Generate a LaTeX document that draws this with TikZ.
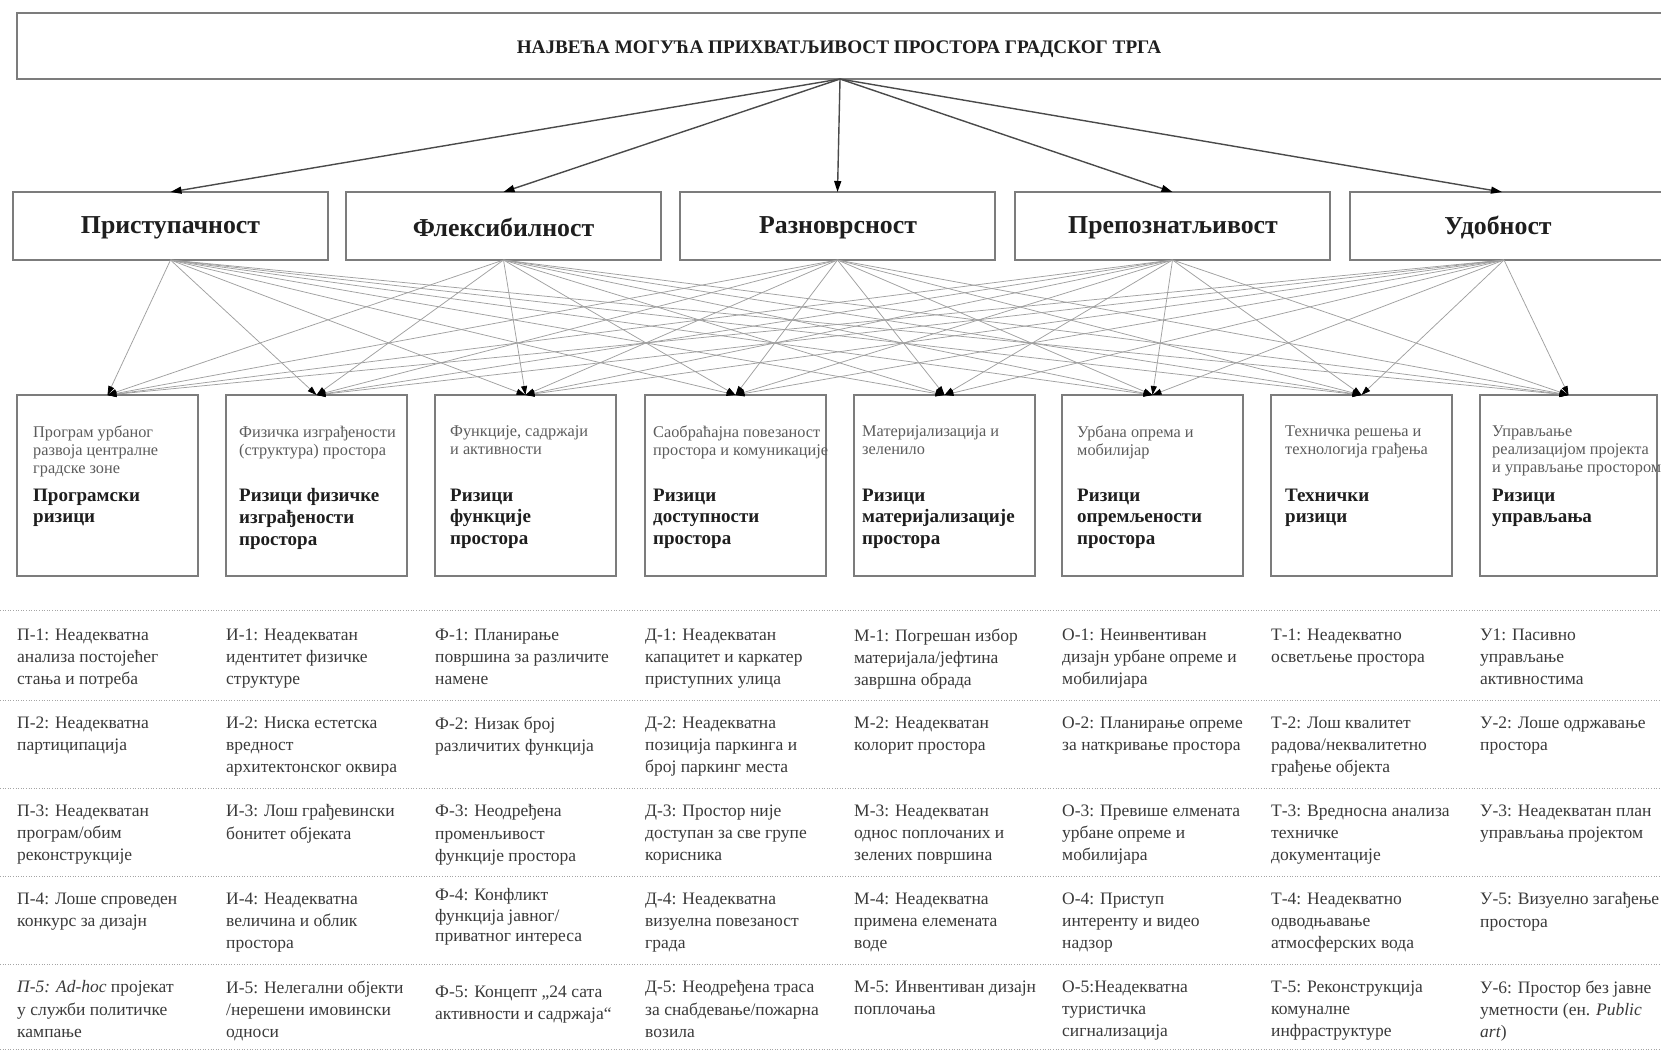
\documentclass[tikz,border=0pt]{standalone}
\usepackage{fontspec}
\setmainfont{Liberation Serif}
\usetikzlibrary{arrows.meta}

\definecolor{boxline}{HTML}{7C7C7C}
\definecolor{wire}{HTML}{A0A0A0}
\definecolor{toparrow}{HTML}{4A4A4A}
\definecolor{smalltext}{HTML}{5C5C5C}
\definecolor{tabletext}{HTML}{3A3A3A}
\definecolor{dotline}{HTML}{A5A5A5}
\definecolor{boldtext}{HTML}{1E1E1E}

\tikzset{
  framebox/.style={draw=boxline, line width=1.3pt, rectangle, inner sep=0pt, outer sep=0pt},
  goalbox/.style={framebox, anchor=north west, minimum width=315pt, minimum height=68pt},
  riskbox/.style={framebox, anchor=north west, minimum width=181pt, minimum height=181pt},
  titletext/.style={font=\bfseries\fontsize{19.2}{22}\selectfont, text=boldtext, anchor=base, inner sep=0pt},
  goaltext/.style={font=\bfseries\fontsize{25.8}{30}\selectfont, text=boldtext, anchor=base, inner sep=0pt},
  % multi-line texts hang from the top of a strut on their first line
  linesblock/.style={align=left, anchor=north west, inner sep=0pt, execute at begin node=\strut},
  areatext/.style={linesblock, font=\fontsize{16.3}{18}\selectfont, text=smalltext},
  risktext/.style={linesblock, font=\bfseries\fontsize{19}{21.7}\selectfont, text=boldtext},
  celltext/.style={linesblock, font=\fontsize{17.5}{22.25}\selectfont, text=tabletext},
  toplink/.style={draw=toparrow, line width=1.4pt, -{Triangle[length=11pt,width=7pt,color=black]}},
  wirelink/.style={draw=wire, line width=0.75pt, -{Triangle[length=9pt,width=6pt,color=black]}},
  rowrule/.style={draw=dotline, line width=1pt, dash pattern=on 1pt off 1.6pt}
}

\begin{document}
\begin{tikzpicture}[x=1pt,y=-1pt]
\clip (0,0) rectangle (1661,1053);
\fill[white] (0,0) rectangle (1661,1053);

% overall goal
\node[framebox, anchor=north west, minimum width=1660pt, minimum height=66pt] (goal) at (17,13) {};
\node[titletext] (goaltitle) at (839,53) {НАЈВЕЋА МОГУЋА ПРИХВАТЉИВОСТ ПРОСТОРА ГРАДСКОГ ТРГА};
\coordinate (apex) at (840,79);

% quality criteria
\node[goalbox] (c1) at (13,192) {};
\node[goalbox] (c2) at (346,192) {};
\node[goalbox] (c3) at (680,192) {};
\node[goalbox] (c4) at (1015,192) {};
\node[goalbox, minimum width=330pt] (c5) at (1350,192) {};
\node[goaltext] (c1t) at (170.5,233) {Приступачност};
\node[goaltext] (c2t) at (503.5,236) {Флексибилност};
\node[goaltext] (c3t) at (838,233) {Разноврсност};
\node[goaltext] (c4t) at (1173,233) {Препознатљивост};
\node[goaltext] (c5t) at (1498,234) {Удобност};

\coordinate (n1) at (c1.north);
\coordinate (n2) at (c2.north);
\coordinate (n3) at (c3.north);
\coordinate (n4) at (c4.north);
\coordinate (n5) at ([xshift=152pt]c5.north west);
\coordinate (s1) at (c1.south);
\coordinate (s2) at (c2.south);
\coordinate (s3) at (c3.south);
\coordinate (s4) at (c4.south);
\coordinate (s5) at ([xshift=154pt]c5.south west);

\foreach \i in {1,...,5} \draw[toplink] (apex) -- (n\i);

% risk groups
\node[riskbox] (r1) at (17,395) {};
\node[riskbox] (r2) at (226,395) {};
\node[riskbox] (r3) at (435,395) {};
\node[riskbox] (r4) at (645,395) {};
\node[riskbox] (r5) at (854,395) {};
\node[riskbox] (r6) at (1062,395) {};
\node[riskbox] (r7) at (1271,395) {};
\node[riskbox, minimum width=177pt] (r8) at (1480,395) {};

\foreach \i in {1,...,5}
  \foreach \j in {1,...,8}
    \draw[wirelink] (s\i) -- (r\j.north);

\node[areatext] (r1a) at (33,425.5) {Програм урбаног\\развоја централне\\градске зоне};
\node[areatext] (r2a) at (239,425.5) {Физичка изграђености\\(структура) простора};
\node[areatext] (r3a) at (450,425.5) {Функције, садржаји\\и активности};
\node[areatext] (r4a) at (653,425.5) {Саобраћајна повезаност\\простора и комуникације};
\node[areatext] (r5a) at (862,425.5) {Материјализација и\\зеленило};
\node[areatext] (r6a) at (1077,425.5) {Урбана опрема и\\мобилијар};
\node[areatext] (r7a) at (1285,425.5) {Техничка решења и\\технологија грађења};
\node[areatext] (r8a) at (1492,425.5) {Управљање\\реализацијом пројекта\\и управљање простором};

\node[risktext] (r1b) at (33,488.5) {Програмски\\ризици};
\node[risktext] (r2b) at (239,488.5) {Ризици физичке\\изграђености\\простора};
\node[risktext] (r3b) at (450,488.5) {Ризици\\функције\\простора};
\node[risktext] (r4b) at (653,488.5) {Ризици\\доступности\\простора};
\node[risktext] (r5b) at (862,488.5) {Ризици\\материјализације\\простора};
\node[risktext] (r6b) at (1077,488.5) {Ризици\\опремљености\\простора};
\node[risktext] (r7b) at (1285,488.5) {Технички\\ризици};
\node[risktext] (r8b) at (1492,488.5) {Ризици\\управљања};

% list of individual risks
\foreach \y in {610,700,788,876,964,1049}
  \draw[rowrule] (0,\y) -- (1661,\y);

% row 1
\node[celltext] (p1) at (17,628.5) {П-1: Неадекватна\\анализа постојећег\\стања и потреба};
\node[celltext] (i1) at (226,628.5) {И-1: Неадекватан\\идентитет физичке\\структуре};
\node[celltext] (f1) at (435,628.5) {Ф-1: Планирање\\површина за различите\\намене};
\node[celltext] (d1) at (645,628.5) {Д-1: Неадекватан\\капацитет и каркатер\\приступних улица};
\node[celltext] (m1) at (854,628.5) {М-1: Погрешан избор\\материјала/јефтина\\завршна обрада};
\node[celltext] (o1) at (1062,628.5) {О-1: Неинвентиван\\дизајн урбане опреме и\\мобилијара};
\node[celltext] (t1) at (1271,628.5) {Т-1: Неадекватно\\осветљење простора};
\node[celltext] (u1) at (1480,628.5) {У1: Пасивно\\управљање\\активностима};

% row 2
\node[celltext] (p2) at (17,716.5) {П-2: Неадекватна\\партиципација};
\node[celltext] (i2) at (226,716.5) {И-2: Ниска естетска\\вредност\\архитектонског оквира};
\node[celltext] (f2) at (435,716.5) {Ф-2: Низак број\\различитих функција};
\node[celltext] (d2) at (645,716.5) {Д-2: Неадекватна\\позиција паркинга и\\број паркинг места};
\node[celltext] (m2) at (854,716.5) {М-2: Неадекватан\\колорит простора};
\node[celltext] (o2) at (1062,716.5) {О-2: Планирање опреме\\за наткривање простора};
\node[celltext] (t2) at (1271,716.5) {Т-2: Лош квалитет\\радова/неквалитетно\\грађење објекта};
\node[celltext] (u2) at (1480,716.5) {У-2: Лоше одржавање\\простора};

% row 3
\node[celltext] (p3) at (17,804.5) {П-3: Неадекватан\\програм/обим\\реконструкције};
\node[celltext] (i3) at (226,804.5) {И-3: Лош грађевински\\бонитет објеката};
\node[celltext] (f3) at (435,804.5) {Ф-3: Неодређена\\променљивост\\функције простора};
\node[celltext] (d3) at (645,804.5) {Д-3: Простор није\\доступан за све групе\\корисника};
\node[celltext] (m3) at (854,804.5) {М-3: Неадекватан\\однос поплочаних и\\зелених површина};
\node[celltext] (o3) at (1062,804.5) {О-3: Превише елмената\\урбане опреме и\\мобилијара};
\node[celltext] (t3) at (1271,804.5) {Т-3: Вредносна анализа\\техничке\\документације};
\node[celltext] (u3) at (1480,804.5) {У-3: Неадекватан план\\управљања пројектом};

% row 4
\node[celltext] (p4) at (17,892.5) {П-4: Лоше спроведен\\конкурс за дизајн};
\node[celltext] (i4) at (226,892.5) {И-4: Неадекватна\\величина и облик\\простора};
\node[celltext, font=\fontsize{17.5}{20.3}\selectfont] (f4) at (435,888.5) {Ф-4: Конфликт\\функција јавног/\\приватног интереса};
\node[celltext] (d4) at (645,892.5) {Д-4: Неадекватна\\визуелна повезаност\\града};
\node[celltext] (m4) at (854,892.5) {М-4: Неадекватна\\примена елемената\\воде};
\node[celltext] (o4) at (1062,892.5) {О-4: Приступ\\интеренту и видео\\надзор};
\node[celltext] (t4) at (1271,892.5) {Т-4: Неадекватно\\одводњавање\\атмосферских вода};
\node[celltext] (u4) at (1480,892.5) {У-5: Визуелно загађење\\простора};

% row 5
\node[celltext] (p5) at (17,980.5) {\textit{П-5: Ad-hoc} пројекат\\у служби политичке\\кампање};
\node[celltext] (i5) at (226,980.5) {И-5: Нелегални објекти\\/нерешени имовински\\односи};
\node[celltext] (f5) at (435,985.5) {Ф-5: Концепт „24 сата\\активности и садржаја“};
\node[celltext] (d5) at (645,980.5) {Д-5: Неодређена траса\\за снабдевање/пожарна\\возила};
\node[celltext] (m5) at (854,980.5) {М-5: Инвентиван дизајн\\поплочања};
\node[celltext] (o5) at (1062,980.5) {О-5:Неадекватна\\туристичка\\сигнализација};
\node[celltext] (t5) at (1271,980.5) {Т-5: Реконструкција\\комуналне\\инфраструктуре};
\node[celltext] (u5) at (1480,980.5) {У-6: Простор без јавне\\уметности (ен. \textit{Public}\\\textit{art})};
\end{tikzpicture}
\end{document}
